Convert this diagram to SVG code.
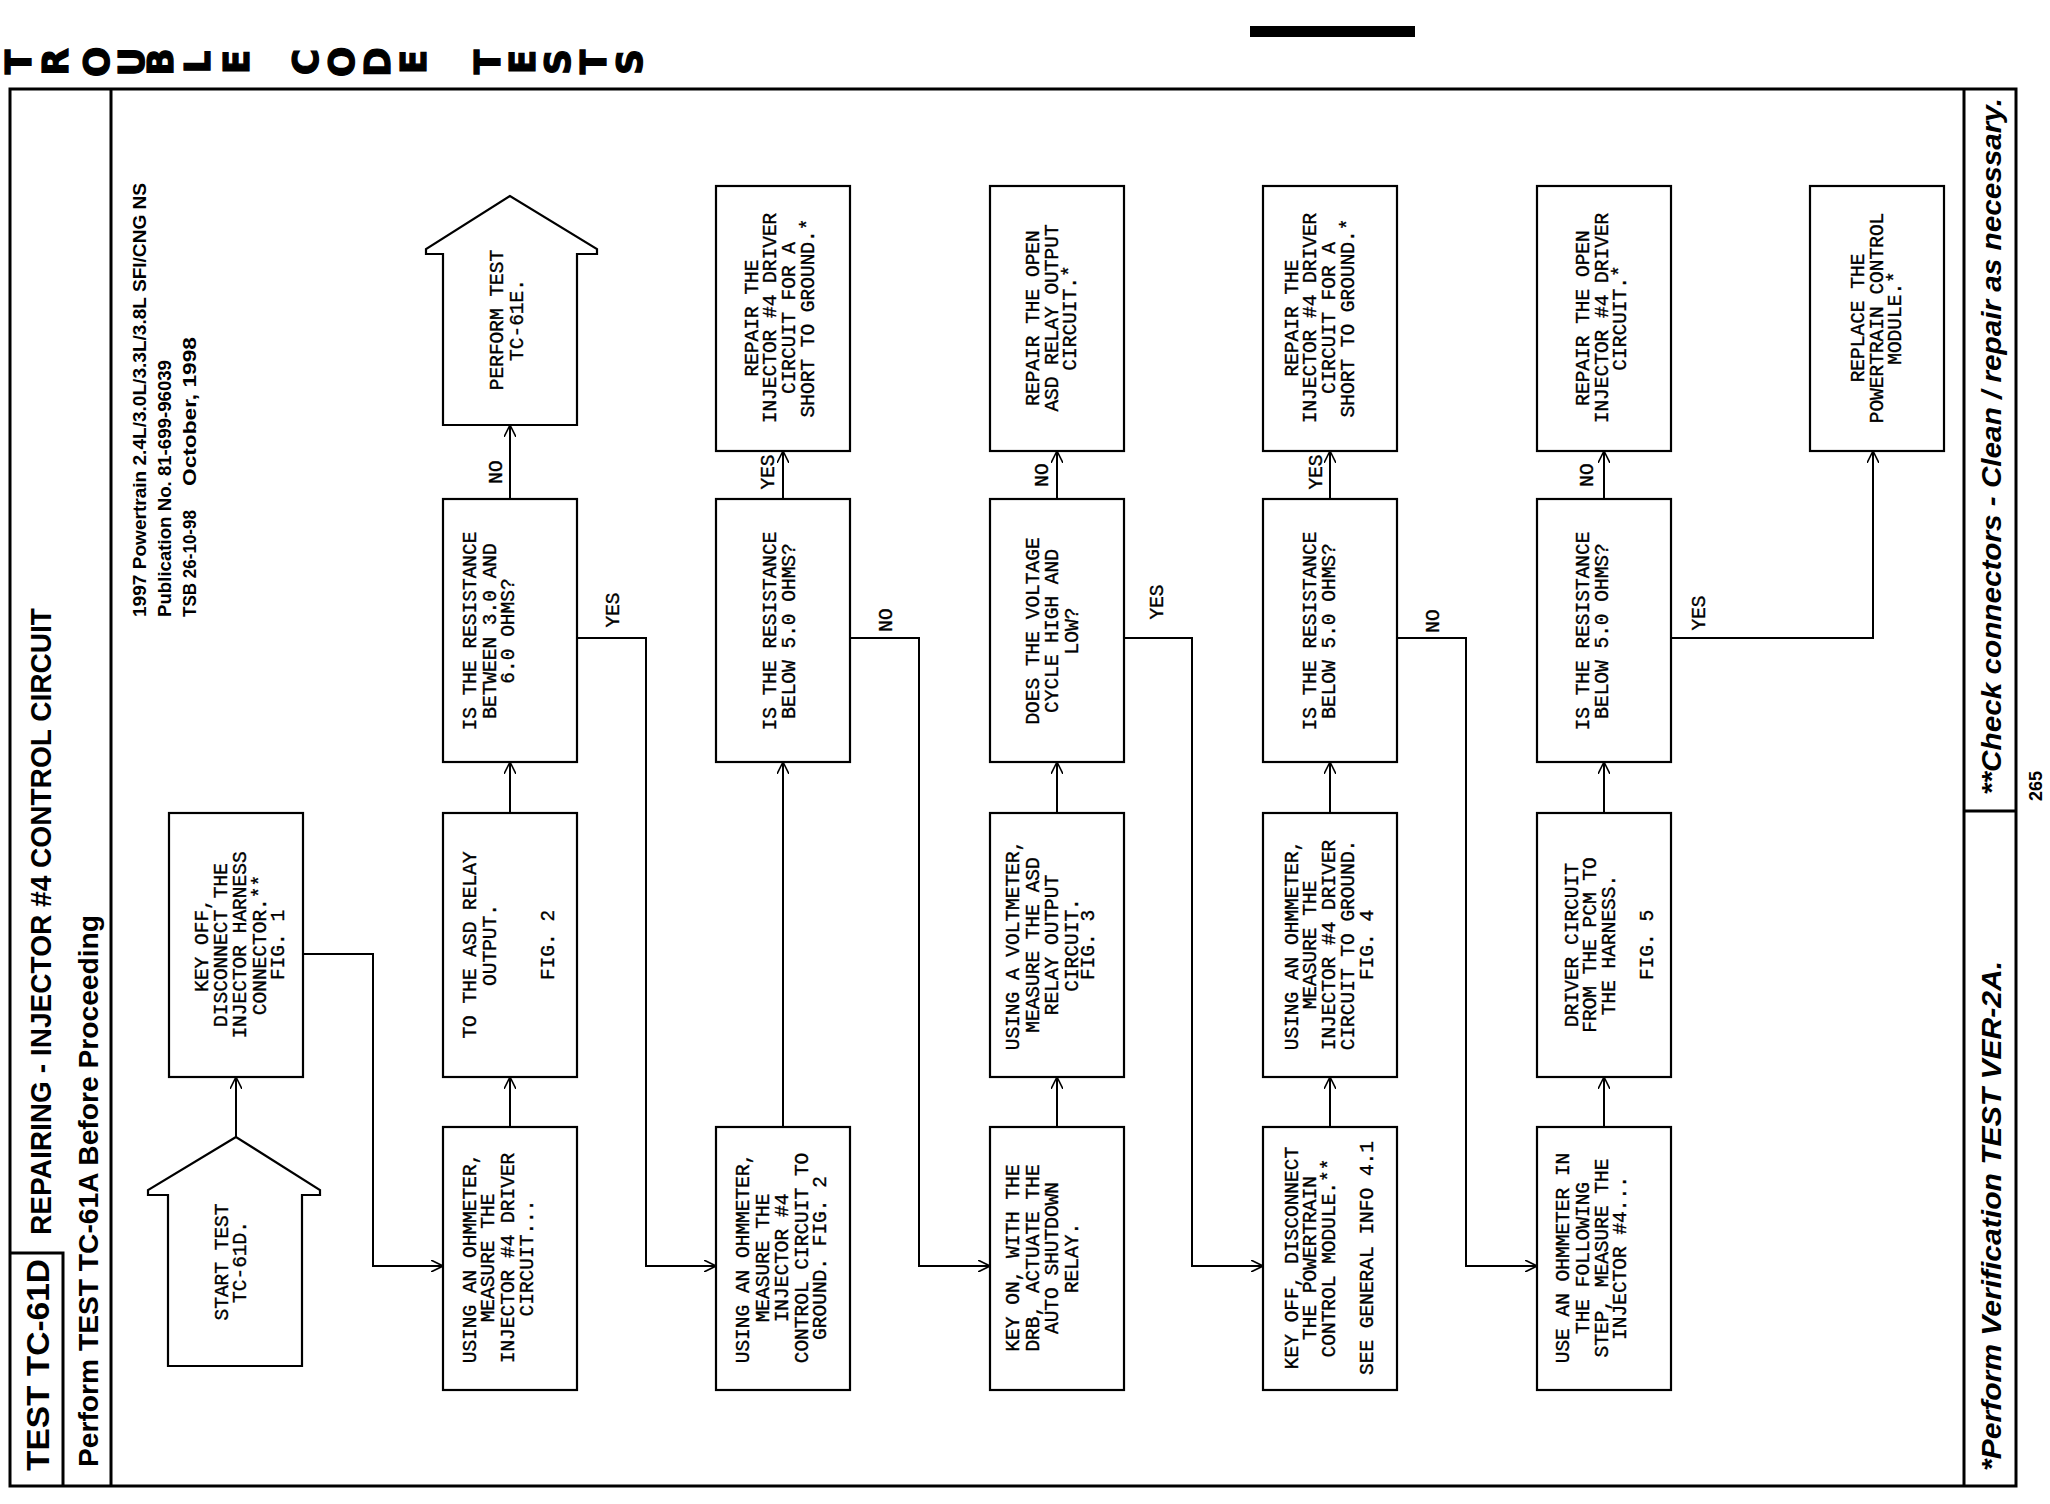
<svg xmlns="http://www.w3.org/2000/svg" width="2050" height="1504" viewBox="0 0 2050 1504">
<defs>
<marker id="ah" viewBox="0 0 12 12" refX="12" refY="6" markerWidth="12" markerHeight="12" markerUnits="userSpaceOnUse" orient="auto">
<path d="M0,0 L12,6 L0,12" fill="none" stroke="#000" stroke-width="1.6"/>
</marker>
<style>
.m{font-family:"Liberation Mono","Courier New",monospace;font-size:19.5px;fill:#000;stroke:#000;stroke-width:0.35}
.box{fill:#fff;stroke:#000;stroke-width:2.2}
.c{fill:none;stroke:#000;stroke-width:2;marker-end:url(#ah)}
.fr{fill:none;stroke:#000;stroke-width:3}
.hd{font-family:"DejaVu Sans","Liberation Sans",sans-serif;font-weight:bold;font-size:36px;fill:#000;stroke:#000;stroke-width:1.2}
.tt{font-family:"Liberation Sans Narrow","Liberation Sans",Arial,sans-serif;font-weight:bold;fill:#000}
.inf{font-family:"Liberation Sans",Arial,sans-serif;font-size:18px;font-weight:bold;fill:#000}
</style>
</defs>
<rect width="2050" height="1504" fill="#fff"/>

<g id="header">
<rect x="1250" y="26" width="165" height="11" fill="#000"/>
<g class="hd" text-anchor="middle" dominant-baseline="central">
<text transform="translate(18,62) rotate(-90)">T</text>
<text transform="translate(55,62) rotate(-90)">R</text>
<text transform="translate(96,62) rotate(-90)">O</text>
<text transform="translate(131,62) rotate(-90)">U</text>
<text transform="translate(160,62) rotate(-90)">B</text>
<text transform="translate(197,62) rotate(-90)">L</text>
<text transform="translate(236,62) rotate(-90)">E</text>
<text transform="translate(305,62) rotate(-90)">C</text>
<text transform="translate(341,62) rotate(-90)">O</text>
<text transform="translate(377,62) rotate(-90)">D</text>
<text transform="translate(413,62) rotate(-90)">E</text>
<text transform="translate(487,62) rotate(-90)">T</text>
<text transform="translate(522,62) rotate(-90)">E</text>
<text transform="translate(557,62) rotate(-90)">S</text>
<text transform="translate(593,62) rotate(-90)">T</text>
<text transform="translate(629,62) rotate(-90)">S</text>
</g>
</g>

<g id="frame">
<rect class="fr" x="10" y="89" width="2006" height="1397"/>
<line class="fr" x1="111" y1="89" x2="111" y2="1486"/>
<line class="fr" x1="1964" y1="89" x2="1964" y2="1486"/>
<line class="fr" x1="1964" y1="811" x2="2016" y2="811"/>
<polyline class="fr" points="10,1253 63,1253 63,1486"/>
</g>

<g id="title">
<text class="tt" font-size="32" transform="translate(49,1471) rotate(-90)" textLength="212" lengthAdjust="spacingAndGlyphs">TEST TC-61D</text>
<text class="tt" font-size="29" transform="translate(51,1235) rotate(-90)" textLength="627" lengthAdjust="spacingAndGlyphs">REPAIRING - INJECTOR #4 CONTROL CIRCUIT</text>
<text class="tt" font-size="28" transform="translate(98,1467) rotate(-90)" textLength="552" lengthAdjust="spacingAndGlyphs">Perform TEST TC-61A Before Proceeding</text>
</g>

<g id="info" class="inf">
<text transform="translate(146,617) rotate(-90)" textLength="434" lengthAdjust="spacingAndGlyphs">1997 Powertrain 2.4L/3.0L/3.3L/3.8L SFI/CNG NS</text>
<text transform="translate(171,617) rotate(-90)" textLength="257" lengthAdjust="spacingAndGlyphs">Publication No. 81-699-96039</text>
<text transform="translate(196,617) rotate(-90)" textLength="107" lengthAdjust="spacingAndGlyphs">TSB 26-10-98</text>
<text transform="translate(196,486) rotate(-90)" textLength="149" lengthAdjust="spacingAndGlyphs">October, 1998</text>
</g>

<g id="footer">
<text class="tt" font-size="28" font-style="italic" transform="translate(2001,1471) rotate(-90)" textLength="510" lengthAdjust="spacingAndGlyphs">*Perform Verification TEST VER-2A.</text>
<text class="tt" font-size="28" font-style="italic" transform="translate(2001,795) rotate(-90)" textLength="697" lengthAdjust="spacingAndGlyphs">**Check connectors - Clean / repair as necessary.</text>
<text class="inf" font-size="23" font-weight="normal" text-anchor="middle" transform="translate(2042,786) rotate(-90)">265</text>
</g>

<g id="connectors">
<path class="c" d="M236,1137 V1077"/>
<path class="c" d="M303,954 H373 V1266 H443"/>
<path class="c" d="M510,1127 V1077"/>
<path class="c" d="M510,813 V762"/>
<path class="c" d="M510,499 V425"/>
<path class="c" d="M577,638 H646 V1266 H716"/>
<path class="c" d="M783,1127 V762"/>
<path class="c" d="M783,499 V451"/>
<path class="c" d="M850,638 H919 V1266 H990"/>
<path class="c" d="M1057,1127 V1077"/>
<path class="c" d="M1057,813 V762"/>
<path class="c" d="M1057,499 V451"/>
<path class="c" d="M1124,638 H1192 V1266 H1263"/>
<path class="c" d="M1330,1127 V1077"/>
<path class="c" d="M1330,813 V762"/>
<path class="c" d="M1330,499 V451"/>
<path class="c" d="M1397,638 H1466 V1266 H1537"/>
<path class="c" d="M1604,1127 V1077"/>
<path class="c" d="M1604,813 V762"/>
<path class="c" d="M1604,499 V451"/>
<path class="c" d="M1671,638 H1873 V451"/>
<g class="m" text-anchor="middle">
<text transform="translate(502,472) rotate(-90)">NO</text>
<text transform="translate(619,610) rotate(-90)">YES</text>
<text transform="translate(774,472) rotate(-90)">YES</text>
<text transform="translate(892,620) rotate(-90)">NO</text>
<text transform="translate(1048,475) rotate(-90)">NO</text>
<text transform="translate(1163,602) rotate(-90)">YES</text>
<text transform="translate(1322,472) rotate(-90)">YES</text>
<text transform="translate(1439,621) rotate(-90)">NO</text>
<text transform="translate(1593,475) rotate(-90)">NO</text>
<text transform="translate(1705,613) rotate(-90)">YES</text>
</g>
</g>

<g id="n-start">
<path class="box" d="M236,1137 L148,1190 V1195 H168 V1366 H302 V1195 H320 V1190 Z"/>
<g class="m" text-anchor="middle">
<text transform="translate(228,1262) rotate(-90)">START TEST</text>
<text transform="translate(246,1262) rotate(-90)">TC-61D.</text>
</g>
</g>

<g id="n-keyoff">
<rect class="box" x="169" y="813" width="134" height="264"/>
<g class="m" text-anchor="middle">
<text transform="translate(208,945) rotate(-90)">KEY OFF,</text>
<text transform="translate(227,945) rotate(-90)">DISCONNECT THE</text>
<text transform="translate(246,945) rotate(-90)">INJECTOR HARNESS</text>
<text transform="translate(266,945) rotate(-90)">CONNECTOR.**</text>
<text transform="translate(284,945) rotate(-90)">FIG. 1</text>
</g>
</g>

<g id="n-perform">
<path class="box" d="M510,196 L426,249 V254 H443 V425 H577 V254 H597 V249 Z"/>
<g class="m" text-anchor="middle">
<text transform="translate(503,320) rotate(-90)">PERFORM TEST</text>
<text transform="translate(523,320) rotate(-90)">TC-61E.</text>
</g>
</g>

<g id="n-b2">
<rect class="box" x="443" y="499" width="134" height="263"/>
<g class="m" text-anchor="middle">
<text transform="translate(476,631) rotate(-90)">IS THE RESISTANCE</text>
<text transform="translate(496,631) rotate(-90)">BETWEEN 3.0 AND</text>
<text transform="translate(514,631) rotate(-90)">6.0 OHMS?</text>
</g>
</g>

<g id="n-b3">
<rect class="box" x="443" y="813" width="134" height="264"/>
<g class="m" text-anchor="middle">
<text transform="translate(476,945) rotate(-90)">TO THE ASD RELAY</text>
<text transform="translate(496,945) rotate(-90)">OUTPUT.</text>
<text transform="translate(554,945) rotate(-90)">FIG. 2</text>
</g>
</g>

<g id="n-b4">
<rect class="box" x="443" y="1127" width="134" height="263"/>
<g class="m" text-anchor="middle">
<text transform="translate(476,1258) rotate(-90)">USING AN OHMMETER,</text>
<text transform="translate(494,1258) rotate(-90)">MEASURE THE</text>
<text transform="translate(514,1258) rotate(-90)">INJECTOR #4 DRIVER</text>
<text transform="translate(533,1258) rotate(-90)">CIRCUIT...</text>
</g>
</g>

<g id="n-c1">
<rect class="box" x="716" y="186" width="134" height="265"/>
<g class="m" text-anchor="middle">
<text transform="translate(758,318) rotate(-90)">REPAIR THE</text>
<text transform="translate(776,318) rotate(-90)">INJECTOR #4 DRIVER</text>
<text transform="translate(795,318) rotate(-90)">CIRCUIT FOR A</text>
<text transform="translate(814,318) rotate(-90)">SHORT TO GROUND.*</text>
</g>
</g>

<g id="n-c2">
<rect class="box" x="716" y="499" width="134" height="263"/>
<g class="m" text-anchor="middle">
<text transform="translate(776,631) rotate(-90)">IS THE RESISTANCE</text>
<text transform="translate(795,631) rotate(-90)">BELOW 5.0 OHMS?</text>
</g>
</g>

<g id="n-c4">
<rect class="box" x="716" y="1127" width="134" height="263"/>
<g class="m" text-anchor="middle">
<text transform="translate(749,1258) rotate(-90)">USING AN OHMMETER,</text>
<text transform="translate(769,1258) rotate(-90)">MEASURE THE</text>
<text transform="translate(788,1258) rotate(-90)">INJECTOR #4</text>
<text transform="translate(808,1258) rotate(-90)">CONTROL CIRCUIT TO</text>
<text transform="translate(826,1258) rotate(-90)">GROUND. FIG. 2</text>
</g>
</g>

<g id="n-d1">
<rect class="box" x="990" y="186" width="134" height="265"/>
<g class="m" text-anchor="middle">
<text transform="translate(1039,318) rotate(-90)">REPAIR THE OPEN</text>
<text transform="translate(1058,318) rotate(-90)">ASD RELAY OUTPUT</text>
<text transform="translate(1076,318) rotate(-90)">CIRCUIT.*</text>
</g>
</g>

<g id="n-d2">
<rect class="box" x="990" y="499" width="134" height="263"/>
<g class="m" text-anchor="middle">
<text transform="translate(1039,631) rotate(-90)">DOES THE VOLTAGE</text>
<text transform="translate(1058,631) rotate(-90)">CYCLE HIGH AND</text>
<text transform="translate(1078,631) rotate(-90)">LOW?</text>
</g>
</g>

<g id="n-d3">
<rect class="box" x="990" y="813" width="134" height="264"/>
<g class="m" text-anchor="middle">
<text transform="translate(1019,945) rotate(-90)">USING A VOLTMETER,</text>
<text transform="translate(1039,945) rotate(-90)">MEASURE THE ASD</text>
<text transform="translate(1058,945) rotate(-90)">RELAY OUTPUT</text>
<text transform="translate(1078,945) rotate(-90)">CIRCUIT.</text>
<text transform="translate(1094,945) rotate(-90)">FIG. 3</text>
</g>
</g>

<g id="n-d4">
<rect class="box" x="990" y="1127" width="134" height="263"/>
<g class="m" text-anchor="middle">
<text transform="translate(1019,1258) rotate(-90)">KEY ON, WITH THE</text>
<text transform="translate(1039,1258) rotate(-90)">DRB, ACTUATE THE</text>
<text transform="translate(1058,1258) rotate(-90)">AUTO SHUTDOWN</text>
<text transform="translate(1078,1258) rotate(-90)">RELAY.</text>
</g>
</g>

<g id="n-e1">
<rect class="box" x="1263" y="186" width="134" height="265"/>
<g class="m" text-anchor="middle">
<text transform="translate(1298,318) rotate(-90)">REPAIR THE</text>
<text transform="translate(1316,318) rotate(-90)">INJECTOR #4 DRIVER</text>
<text transform="translate(1335,318) rotate(-90)">CIRCUIT FOR A</text>
<text transform="translate(1354,318) rotate(-90)">SHORT TO GROUND.*</text>
</g>
</g>

<g id="n-e2">
<rect class="box" x="1263" y="499" width="134" height="263"/>
<g class="m" text-anchor="middle">
<text transform="translate(1316,631) rotate(-90)">IS THE RESISTANCE</text>
<text transform="translate(1335,631) rotate(-90)">BELOW 5.0 OHMS?</text>
</g>
</g>

<g id="n-e3">
<rect class="box" x="1263" y="813" width="134" height="264"/>
<g class="m" text-anchor="middle">
<text transform="translate(1298,945) rotate(-90)">USING AN OHMMETER,</text>
<text transform="translate(1316,945) rotate(-90)">MEASURE THE</text>
<text transform="translate(1335,945) rotate(-90)">INJECTOR #4 DRIVER</text>
<text transform="translate(1354,945) rotate(-90)">CIRCUIT TO GROUND.</text>
<text transform="translate(1373,945) rotate(-90)">FIG. 4</text>
</g>
</g>

<g id="n-e4">
<rect class="box" x="1263" y="1127" width="134" height="263"/>
<g class="m" text-anchor="middle">
<text transform="translate(1298,1258) rotate(-90)">KEY OFF, DISCONNECT</text>
<text transform="translate(1316,1258) rotate(-90)">THE POWERTRAIN</text>
<text transform="translate(1335,1258) rotate(-90)">CONTROL MODULE.**</text>
<text transform="translate(1373,1258) rotate(-90)">SEE GENERAL INFO 4.1</text>
</g>
</g>

<g id="n-f1">
<rect class="box" x="1537" y="186" width="134" height="265"/>
<g class="m" text-anchor="middle">
<text transform="translate(1589,318) rotate(-90)">REPAIR THE OPEN</text>
<text transform="translate(1608,318) rotate(-90)">INJECTOR #4 DRIVER</text>
<text transform="translate(1626,318) rotate(-90)">CIRCUIT.*</text>
</g>
</g>

<g id="n-f2">
<rect class="box" x="1537" y="499" width="134" height="263"/>
<g class="m" text-anchor="middle">
<text transform="translate(1589,631) rotate(-90)">IS THE RESISTANCE</text>
<text transform="translate(1608,631) rotate(-90)">BELOW 5.0 OHMS?</text>
</g>
</g>

<g id="n-f3">
<rect class="box" x="1537" y="813" width="134" height="264"/>
<g class="m" text-anchor="middle">
<text transform="translate(1578,945) rotate(-90)">DRIVER CIRCUIT</text>
<text transform="translate(1596,945) rotate(-90)">FROM THE PCM TO</text>
<text transform="translate(1615,945) rotate(-90)">THE HARNESS.</text>
<text transform="translate(1653,945) rotate(-90)">FIG. 5</text>
</g>
</g>

<g id="n-f4">
<rect class="box" x="1537" y="1127" width="134" height="263"/>
<g class="m" text-anchor="middle">
<text transform="translate(1569,1258) rotate(-90)">USE AN OHMMETER IN</text>
<text transform="translate(1589,1258) rotate(-90)">THE FOLLOWING</text>
<text transform="translate(1608,1258) rotate(-90)">STEP, MEASURE THE</text>
<text transform="translate(1626,1258) rotate(-90)">INJECTOR #4...</text>
</g>
</g>

<g id="n-g1">
<rect class="box" x="1810" y="186" width="134" height="265"/>
<g class="m" text-anchor="middle">
<text transform="translate(1864,318) rotate(-90)">REPLACE THE</text>
<text transform="translate(1883,318) rotate(-90)">POWERTRAIN CONTROL</text>
<text transform="translate(1901,318) rotate(-90)">MODULE.*</text>
</g>
</g>
</svg>
